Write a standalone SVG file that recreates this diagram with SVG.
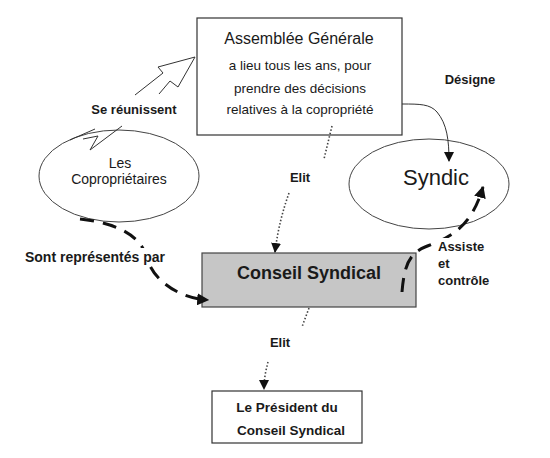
<svg xmlns="http://www.w3.org/2000/svg" width="550" height="458" viewBox="0 0 550 458">
<defs>
<style>
text{font-family:"Liberation Sans","DejaVu Sans",sans-serif;fill:#1a1a1a;text-anchor:middle}
.b{font-weight:bold}
.node{fill:#fff;stroke:#333;stroke-width:1.2}
.ell{fill:#fff;stroke:#444;stroke-width:1}
.dot{fill:none;stroke:#444;stroke-width:1.6;stroke-dasharray:1.5 2}
.dash{fill:none;stroke:#111;stroke-width:3;stroke-dasharray:14 9}
.thin{fill:none;stroke:#333;stroke-width:1}
.st{text-anchor:start}
</style>
<marker id="ah" viewBox="0 0 10 10" refX="9" refY="5" markerWidth="10" markerHeight="10" markerUnits="userSpaceOnUse" orient="auto">
<path d="M0 0 L10 5 L0 10 Z" fill="#111"/>
</marker>
<marker id="ahb" viewBox="0 0 10 10" refX="9" refY="5" markerWidth="12" markerHeight="12" markerUnits="userSpaceOnUse" orient="auto">
<path d="M0 0 L10 5 L0 10 Z" fill="#111"/>
</marker>
</defs>
<rect width="550" height="458" fill="#fff"/>

<g id="assemblee">
<rect class="node" x="197" y="18" width="205" height="117"/>
<text x="299" y="44" font-size="16">Assemblée Générale</text>
<text x="300" y="70" font-size="13.5">a lieu tous les ans, pour</text>
<text x="300" y="93" font-size="13.5">prendre des décisions</text>
<text x="300" y="114" font-size="13.5">relatives à la copropriété</text>
</g>

<g id="coproprietaires">
<ellipse class="ell" cx="119" cy="176" rx="80" ry="46"/>
<text x="120" y="168" font-size="14">Les</text>
<text x="119" y="184" font-size="14">Copropriétaires</text>
</g>

<g id="syndic">
<ellipse class="ell" cx="429" cy="184" rx="80" ry="45"/>
<text x="436" y="185" font-size="22">Syndic</text>
</g>

<g id="conseil">
<rect x="202" y="253" width="214" height="54" fill="#c6c6c6" stroke="#444" stroke-width="1.2"/>
<text x="309" y="279" font-size="18" class="b">Conseil Syndical</text>
</g>

<g id="president">
<rect class="node" x="212" y="391" width="150" height="52"/>
<text x="287" y="412" font-size="13.5" class="b">Le Président du</text>
<text x="291" y="435" font-size="13.5" class="b">Conseil Syndical</text>
</g>

<g id="connectors">
<path class="thin" d="M135 95 L163 73 L158 67 L195 57 L178 87 L170 81 L159 94"/>
<path class="thin" d="M70 140 L95 129 M83 139 L98 136 L90 150 L122 126"/>
<path class="thin" d="M402 104 C420 104 430 104 437 112 C447 124 449 140 449 161" marker-end="url(#ah)"/>
<path class="dot" d="M332 126 L324 159"/>
<path class="dot" d="M289 193 C283 210 278 228 275 252" marker-end="url(#ah)"/>
<path class="dot" d="M309 308 L302 327"/>
<path class="dot" d="M268 362 C266 370 264 378 264 389" marker-end="url(#ah)"/>
<path class="dash" d="M80 219 C125 224 142 240 147 258 C153 280 178 298 208 300" marker-end="url(#ahb)"/>
<path class="dash" d="M402 292 C404 268 408 254 425 247 C455 236 472 224 483 187" marker-end="url(#ahb)"/>
</g>

<rect x="18" y="248" width="154" height="18" fill="#fff"/>
<rect x="436" y="238" width="54" height="16" fill="#fff"/>

<g id="labels">
<text x="134" y="114" font-size="13" class="b">Se réunissent</text>
<text x="470" y="84" font-size="13" class="b">Désigne</text>
<text x="300" y="182" font-size="13" class="b">Elit</text>
<text x="95" y="262" font-size="14" class="b">Sont représentés par</text>
<text x="438" y="251" font-size="13" class="b st">Assiste</text>
<text x="438" y="268" font-size="13" class="b st">et</text>
<text x="438" y="285" font-size="13" class="b st">contrôle</text>
<text x="280" y="347" font-size="13" class="b">Elit</text>
</g>
</svg>
